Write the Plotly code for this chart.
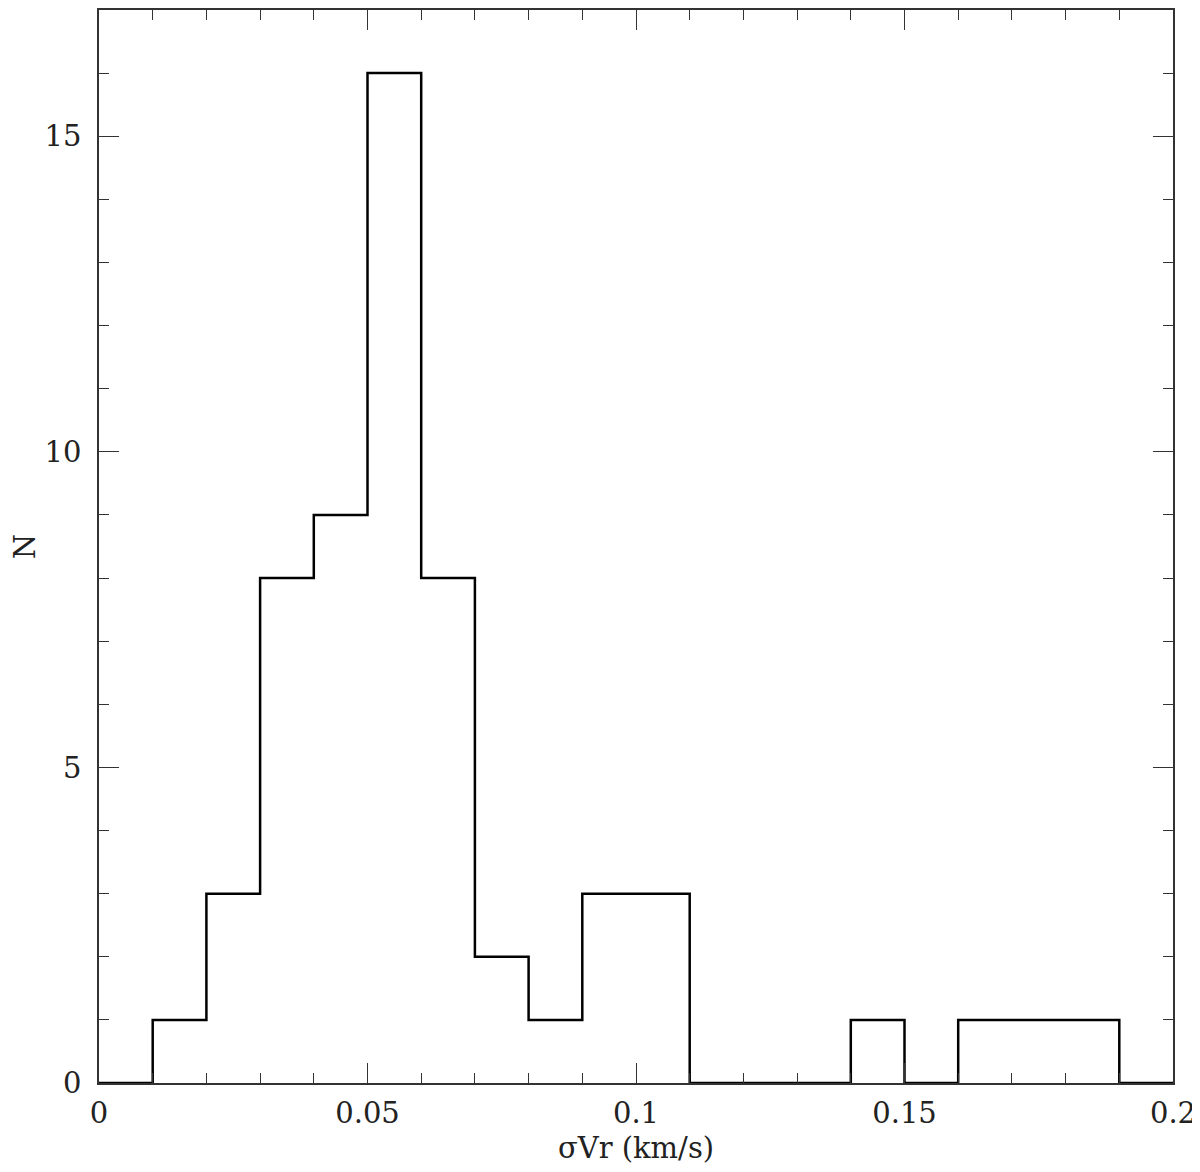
import plotly.graph_objects as go

# histogram of sigma Vr, bins of 0.01 km/s
bin_edges = [0.00, 0.01, 0.02, 0.03, 0.04, 0.05, 0.06, 0.07, 0.08, 0.09, 0.10,
             0.11, 0.12, 0.13, 0.14, 0.15, 0.16, 0.17, 0.18, 0.19, 0.20]
counts = [0, 1, 3, 8, 9, 16, 8, 2, 1, 3, 3, 0, 0, 0, 1, 0, 1, 1, 1, 0]

FONT = "DejaVu Serif"
font = dict(family=FONT, size=29, color="#222")

fig = go.Figure()
fig.add_trace(go.Scatter(
    x=bin_edges,
    y=counts + [counts[-1]],
    mode="lines",
    line=dict(shape="hv", color="black", width=2.5),
    showlegend=False,
))

axis_common = dict(
    showgrid=False,
    zeroline=False,
    showline=True,
    linecolor="#333",
    linewidth=1.5,
    mirror="ticks",
    ticks="inside",
    ticklen=20,
    tickwidth=1,
    tickcolor="#333",
    tickfont=font,
    automargin=False,
)

fig.update_xaxes(
    **axis_common,
    range=[0, 0.2],
    tickvals=[0, 0.05, 0.1, 0.15, 0.2],
    ticktext=["0", "0.05", "0.1", "0.15", "0.2"],
    ticklabelstandoff=3,
    minor=dict(dtick=0.01, tick0=0, ticks="inside", ticklen=10, tickcolor="#333", tickwidth=1),
    title=dict(text="σVr (km/s)", font=font, standoff=9),
)
fig.update_yaxes(
    **axis_common,
    range=[0, 17],
    tickvals=[0, 5, 10, 15],
    ticklabelstandoff=10,
    minor=dict(dtick=1, tick0=0, ticks="inside", ticklen=10, tickcolor="#333", tickwidth=1),
    title=dict(text="N", font=font, standoff=30),
)

# page body adds an 8px margin, so the figure is sized to fit the window
fig.update_layout(
    width=1192,
    height=1164,
    margin=dict(l=91, r=27, t=2, b=89),
    plot_bgcolor="white",
    paper_bgcolor="white",
)

fig.write_html("out.html")
